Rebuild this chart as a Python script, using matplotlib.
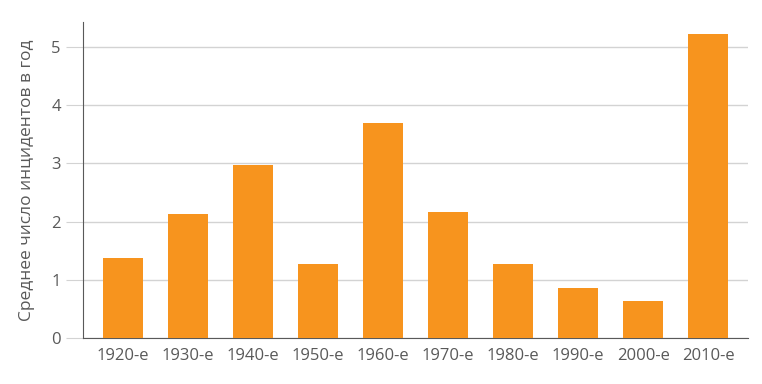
import matplotlib
matplotlib.use("Agg")
import matplotlib.pyplot as plt

decades = ["1920-е", "1930-е", "1940-е", "1950-е", "1960-е",
           "1970-е", "1980-е", "1990-е", "2000-е", "2010-е"]
incidents = [1.38, 2.13, 2.97, 1.27, 3.69, 2.17, 1.27, 0.86, 0.64, 5.22]

plt.rcParams['font.family'] = ['Open Sans', 'DejaVu Sans']
text_col = '#595959'

fig = plt.figure(figsize=(7.62, 3.84), dpi=100)
ax = fig.add_axes([0.109, 0.12, 0.873, 0.823])

ax.bar(range(len(decades)), incidents, width=0.615, color='#F7941E', zorder=3)

ax.set_xlim(-0.615, len(decades) - 1 + 0.615)
ax.set_ylim(0, 5.43)
ax.set_yticks(range(6))
ax.set_xticks(range(len(decades)))
ax.set_xticklabels(decades)
ax.yaxis.grid(True, color='#D3D3D3', linewidth=1, zorder=0)

for s in ['top', 'right']:
    ax.spines[s].set_visible(False)
ax.spines['left'].set_color(text_col)
ax.spines['bottom'].set_color(text_col)

ax.tick_params(axis='y', length=12, color='#D3D3D3', labelsize=12, labelcolor=text_col, pad=4)
ax.tick_params(axis='x', length=0, labelsize=12, labelcolor=text_col, pad=7)
# zero tick continues the baseline in dark gray
ax.yaxis.get_major_ticks()[0].tick1line.set_color(text_col)

ax.set_ylabel("Среднее число инцидентов в год", fontsize=12.5, color=text_col, labelpad=12)

fig.savefig("out.png", dpi=100)
